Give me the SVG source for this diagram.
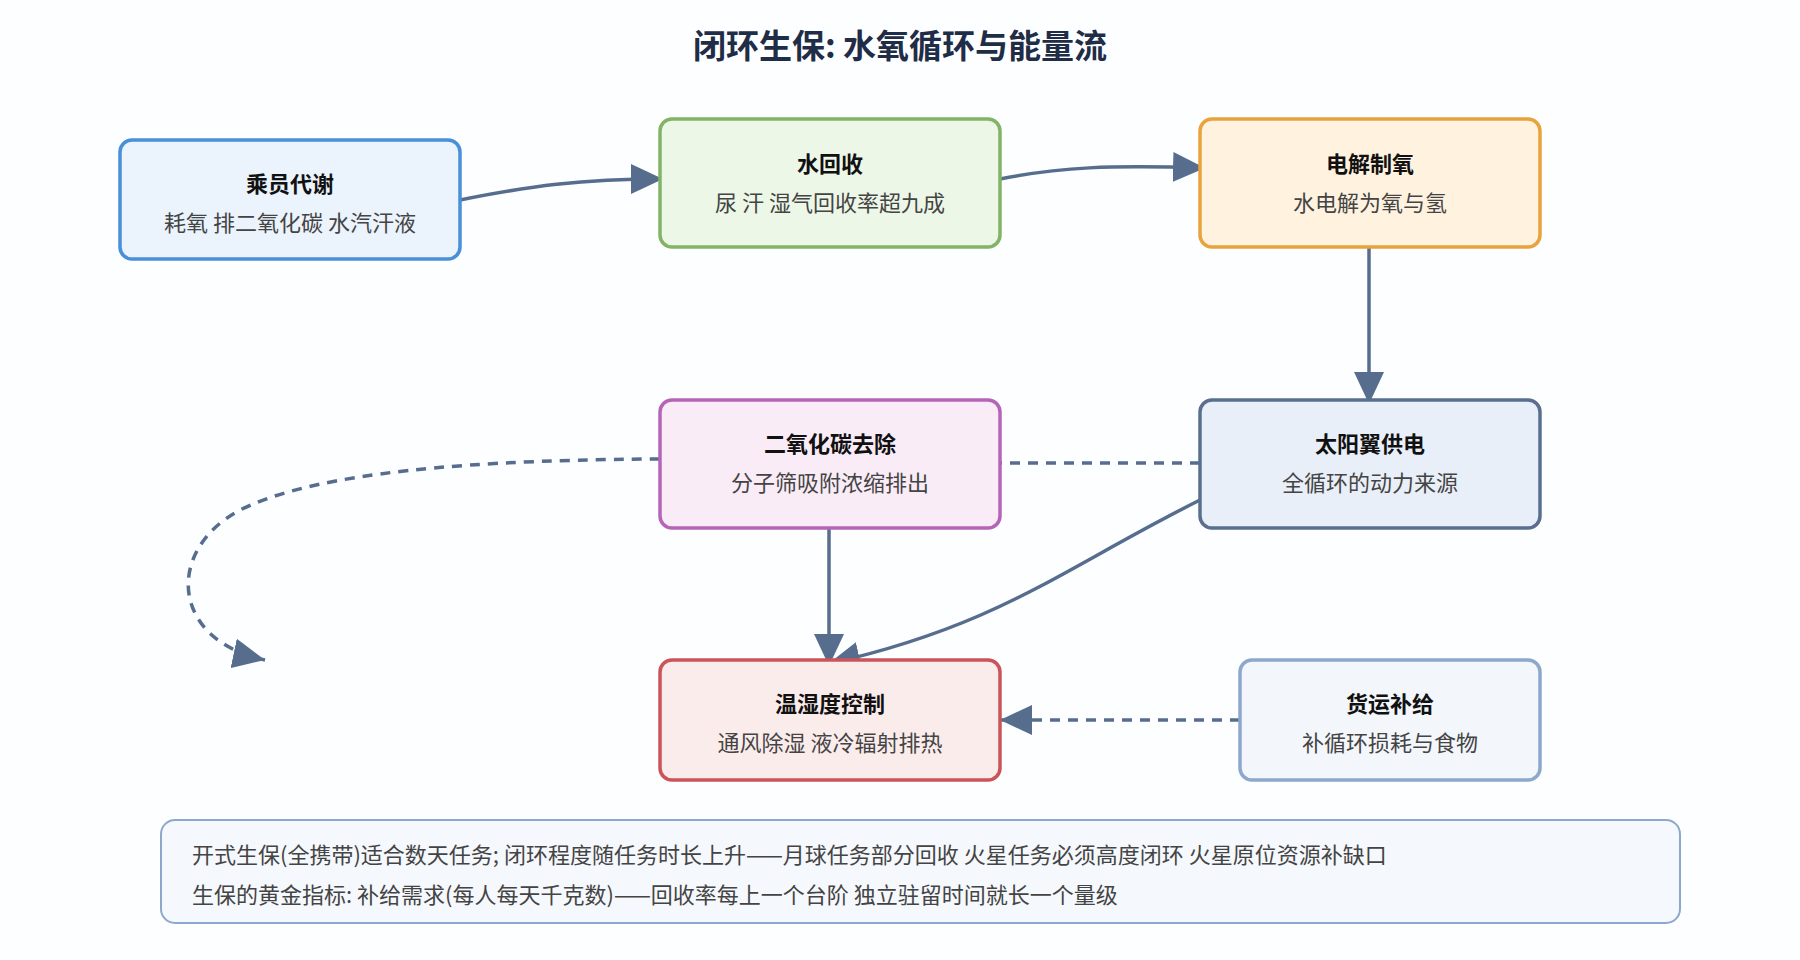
<svg xmlns="http://www.w3.org/2000/svg" width="1800" height="960" viewBox="0 0 1800 960">
<defs>
<style>
text{font-family:"Noto Sans CJK SC","Noto Sans",sans-serif}
.t{font-size:22px;font-weight:bold;fill:#111;text-anchor:middle}
.s{font-size:22px;fill:#444;text-anchor:middle}
.n{stroke-width:3.5}
.c{fill:none;stroke:#566d8e;stroke-width:3.5}
.d{stroke-dasharray:10 8}
.note{font-size:22px;fill:#444}
</style>
<marker id="a" markerUnits="userSpaceOnUse" markerWidth="34" markerHeight="30" refX="32" refY="15" orient="auto"><path d="M0,0 L32,15 L0,30 Z" fill="#566d8e"/></marker>
</defs>
<rect width="1800" height="960" fill="#fdfeff"/>
<text x="900" y="58" font-size="33" font-weight="bold" fill="#1f2d46" text-anchor="middle">闭环生保: 水氧循环与能量流</text>
<g id="connectors">
<path class="c" d="M460,200 C530,186 580,179 663,179" marker-end="url(#a)"/>
<path class="c" d="M1000,179 C1060,167 1110,165 1205,168" marker-end="url(#a)"/>
<path class="c" d="M1369,247 L1369,404" marker-end="url(#a)"/>
<path class="c d" d="M1200,463 L1000,463"/>
<path class="c d" d="M660,459 C420,460 300,480 240,510 C165,550 170,640 265,660" marker-end="url(#a)"/>
<path class="c" d="M829,528 L829,666" marker-end="url(#a)"/>
<path class="c" d="M1200,500 C1060,570 1000,625 828,664" marker-end="url(#a)"/>
<path class="c d" d="M1240,720 L1000,720" marker-end="url(#a)"/>
</g>
<g id="n1"><rect class="n" x="120" y="140" width="340" height="119" rx="12" fill="#ebf3fd" stroke="#4a90d9"/><text class="t" x="290" y="192">乘员代谢</text><text class="s" x="290" y="231">耗氧 排二氧化碳 水汽汗液</text></g>
<g id="n2"><rect class="n" x="660" y="119" width="340" height="128" rx="12" fill="#edf7e8" stroke="#82b366"/><text class="t" x="830" y="172">水回收</text><text class="s" x="830" y="211">尿 汗 湿气回收率超九成</text></g>
<g id="n3"><rect class="n" x="1200" y="119" width="340" height="128" rx="12" fill="#fff3e0" stroke="#e8a33d"/><text class="t" x="1370" y="172">电解制氧</text><text class="s" x="1370" y="211">水电解为氧与氢</text></g>
<g id="n4"><rect class="n" x="660" y="400" width="340" height="128" rx="12" fill="#f9ecf6" stroke="#b565b8"/><text class="t" x="830" y="452">二氧化碳去除</text><text class="s" x="830" y="491">分子筛吸附浓缩排出</text></g>
<g id="n5"><rect class="n" x="1200" y="400" width="340" height="128" rx="12" fill="#e9eff8" stroke="#5a6f8e"/><text class="t" x="1370" y="452">太阳翼供电</text><text class="s" x="1370" y="491">全循环的动力来源</text></g>
<g id="n6"><rect class="n" x="660" y="660" width="340" height="120" rx="12" fill="#fbecec" stroke="#c9545a"/><text class="t" x="830" y="712">温湿度控制</text><text class="s" x="830" y="751">通风除湿 液冷辐射排热</text></g>
<g id="n7"><rect class="n" x="1240" y="660" width="300" height="120" rx="12" fill="#f3f6fb" stroke="#8ea8cc"/><text class="t" x="1390" y="712">货运补给</text><text class="s" x="1390" y="751">补循环损耗与食物</text></g>
<g id="note"><rect x="161" y="820" width="1519" height="103" rx="14" fill="#f5f8fc" stroke="#8ea8cc" stroke-width="2"/>
<text class="note" x="192" y="863">开式生保(全携带)适合数天任务; 闭环程度随任务时长上升——月球任务部分回收 火星任务必须高度闭环 火星原位资源补缺口</text>
<text class="note" x="192" y="903">生保的黄金指标: 补给需求(每人每天千克数)——回收率每上一个台阶 独立驻留时间就长一个量级</text></g>
</svg>
